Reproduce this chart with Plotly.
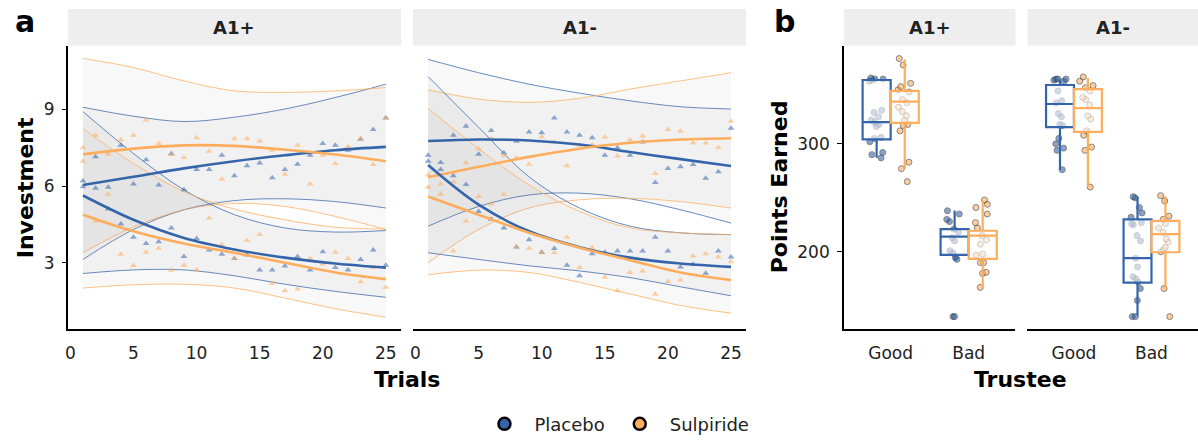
import plotly.graph_objects as go

W, H = 1198, 443
BLUE = "#3465AB"
ORANGE = "#FDAD5C"
FONT = "DejaVu Sans"

# ---------------- Panel a: investment over trials ----------------
trials = list(range(1, 26))
fit_x = [1, 5, 9, 13, 17, 21, 25]

# A1+ facet : trial means
a1p_plac_good_pts = [6.2, 7.14, 5.95, 7.59, 6.08, 7.03, 6.04, 7.26, 5.85, 6.65, 6.65, 7.2, 6.4,
                     6.79, 6.9, 6.32, 6.65, 6.85, 7.2, 7.66, 7.59, 7.4, 7.83, 8.21, 8.66]
a1p_plac_bad_pts = [5.97, 5.91, 5.1, 4.51, 4.0, 3.75, 3.82, 4.36, 3.24, 3.95, 3.5, 3.33, 3.17,
                    3.3, 2.72, 2.72, 2.87, 3.24, 2.72, 3.43, 2.81, 2.72, 3.13, 3.5, 2.9]
a1p_sulp_good_pts = [7.5, 7.98, 7.24, 7.81, 7.98, 8.58, 7.66, 7.23, 7.11, 7.89, 7.36, 6.26, 7.85,
                     7.85, 7.76, 7.4, 6.46, 7.59, 6.08, 7.2, 6.88, 7.53, 7.85, 6.84, 8.66]
a1p_sulp_bad_pts = [6.97, 4.62, 5.68, 3.33, 2.89, 3.41, 3.56, 2.71, 2.9, 2.72, 4.75, 3.71, 3.17,
                    3.87, 4.1, 2.19, 1.91, 1.97, 3.17, 2.94, 3.41, 3.17, 2.26, 2.81, 2.04]

# A1+ facet : smooth fits and confidence bands
a1p_plac_good_fit = [6.04, 6.36, 6.69, 6.97, 7.2, 7.4, 7.53]
a1p_plac_good_hi = [9.08, 8.73, 8.52, 8.69, 9.01, 9.46, 9.98]
a1p_plac_good_lo = [3.13, 4.3, 5.07, 5.43, 5.5, 5.39, 5.14]
a1p_sulp_good_fit = [7.24, 7.46, 7.59, 7.57, 7.42, 7.23, 6.97]
a1p_sulp_good_hi = [10.99, 10.63, 10.11, 9.72, 9.66, 9.72, 9.85]
a1p_sulp_good_lo = [3.39, 4.4, 5.07, 5.32, 5.2, 4.81, 4.3]
a1p_plac_bad_fit = [5.63, 4.68, 3.97, 3.52, 3.2, 2.97, 2.81]
a1p_plac_bad_hi = [8.91, 7.27, 5.85, 4.88, 4.36, 4.2, 4.26]
a1p_plac_bad_lo = [2.58, 2.72, 2.72, 2.49, 2.16, 1.88, 1.65]
a1p_sulp_bad_fit = [4.88, 4.23, 3.75, 3.39, 3.0, 2.62, 2.36]
a1p_sulp_bad_hi = [8.24, 6.88, 5.78, 5.1, 4.68, 4.39, 4.32]
a1p_sulp_bad_lo = [2.01, 2.14, 2.16, 2.01, 1.62, 1.2, 0.87]

# A1- facet : trial means
a1m_plac_good_pts = [7.2, 6.92, 7.98, 8.34, 7.24, 8.17, 7.3, 7.75, 8.11, 8.08, 8.66, 8.11, 7.98,
                     7.89, 7.2, 7.5, 7.2, 7.72, 6.14, 6.68, 6.75, 6.84, 6.3, 6.56, 8.26]
a1m_plac_bad_pts = [6.97, 6.65, 6.4, 6.06, 5.0, 4.7, 4.36, 3.62, 3.9, 3.41, 3.56, 2.9, 2.49,
                    3.35, 3.41, 3.46, 3.46, 3.46, 4.0, 3.46, 2.83, 2.94, 2.59, 3.46, 3.22]
a1m_sulp_good_pts = [6.43, 6.08, 6.17, 6.9, 7.46, 7.85, 7.2, 7.1, 6.85, 7.92, 7.72, 6.79, 7.59,
                     7.61, 7.92, 7.17, 7.81, 7.95, 6.49, 8.21, 8.14, 7.68, 7.68, 7.5, 8.53]
a1m_sulp_bad_pts = [5.95, 5.68, 3.46, 4.62, 5.59, 5.3, 5.68, 3.62, 3.56, 3.39, 3.39, 4.0, 2.81,
                    3.59, 2.43, 1.91, 2.62, 2.68, 1.78, 2.27, 2.33, 3.26, 3.35, 3.22, 3.04]

# A1- facet : smooth fits and confidence bands
a1m_plac_good_fit = [7.76, 7.82, 7.78, 7.62, 7.33, 7.05, 6.78]
a1m_plac_good_hi = [10.95, 10.43, 9.98, 9.63, 9.33, 9.1, 9.01]
a1m_plac_good_lo = [4.43, 5.2, 5.65, 5.72, 5.5, 5.07, 4.55]
a1m_sulp_good_fit = [6.34, 6.75, 7.14, 7.46, 7.69, 7.82, 7.87]
a1m_sulp_good_hi = [9.76, 9.4, 9.27, 9.43, 9.79, 10.11, 10.43]
a1m_sulp_good_lo = [3.0, 4.3, 5.14, 5.46, 5.52, 5.39, 5.14]
a1m_plac_bad_fit = [6.82, 5.27, 4.23, 3.61, 3.2, 2.97, 2.84]
a1m_plac_bad_hi = [10.28, 8.3, 6.36, 5.14, 4.43, 4.17, 4.1]
a1m_plac_bad_lo = [3.39, 3.13, 2.88, 2.68, 2.42, 2.06, 1.71]
a1m_sulp_bad_fit = [5.59, 4.88, 4.17, 3.59, 3.1, 2.62, 2.32]
a1m_sulp_bad_hi = [9.04, 7.46, 6.04, 5.01, 4.36, 4.17, 4.1]
a1m_sulp_bad_lo = [2.53, 2.71, 2.62, 2.23, 1.78, 1.33, 1.03]

a_xticks = [0, 5, 10, 15, 20, 25]
a_yticks = [3, 6, 9]

# ---------------- Panel b: points earned ----------------
trustee_cats = ["Good", "Bad"]

# raw participant points
a1p_good_plac = [361, 360, 360, 359, 358, 331, 329, 325, 322, 320, 318, 316, 306, 305, 302, 292, 290, 287]
a1p_bad_plac = [238, 235, 230, 228, 221, 218, 213, 210, 201, 199, 195, 193, 140, 140]
a1p_good_sulp = [379, 373, 356, 353, 350, 348, 341, 338, 334, 330, 326, 322, 318, 317, 312, 283, 277, 265]
a1p_bad_sulp = [248, 244, 241, 235, 227, 222, 215, 211, 207, 198, 197, 190, 190, 181, 180, 167]
a1m_good_plac = [360, 360, 360, 359, 358, 349, 340, 338, 328, 325, 318, 317, 305, 300, 296, 294, 276]
a1m_bad_plac = [251, 250, 241, 236, 232, 227, 226, 225, 215, 210, 194, 186, 177, 175, 172, 166, 155, 140, 140]
a1m_good_sulp = [362, 358, 354, 352, 349, 343, 341, 336, 326, 323, 312, 308, 297, 294, 260]
a1m_bad_sulp = [252, 247, 233, 230, 226, 222, 218, 212, 209, 204, 202, 200, 166, 140]

# box statistics [Good, Bad]
a1p_plac_q1 = [304.2, 197.2]
a1p_plac_med = [320.1, 214.0]
a1p_plac_q3 = [359.1, 221.0]
a1p_plac_lo = [287.0, 191.4]
a1p_plac_hi = [359.1, 238.3]
a1p_sulp_q1 = [319.5, 193.5]
a1p_sulp_med = [339.0, 215.0]
a1p_sulp_q3 = [349.0, 219.5]
a1p_sulp_lo = [277.0, 166.0]
a1p_sulp_hi = [378.0, 247.5]
a1m_plac_q1 = [315.5, 171.5]
a1m_plac_med = [336.9, 194.1]
a1m_plac_q3 = [354.5, 230.1]
a1m_plac_lo = [275.8, 141.0]
a1m_plac_hi = [359.7, 250.9]
a1m_sulp_q1 = [311.0, 199.6]
a1m_sulp_med = [333.0, 216.4]
a1m_sulp_q3 = [350.6, 228.6]
a1m_sulp_lo = [260.0, 165.5]
a1m_sulp_hi = [361.0, 251.5]

b_yticks = [200, 300]


def rgba(hexc, a):
    h = hexc.lstrip("#")
    r, g, b = int(h[0:2], 16), int(h[2:4], 16), int(h[4:6], 16)
    return f"rgba({r},{g},{b},{a})"


fig = go.Figure()

# ---- panel a traces ----
facets_a = [
    ("x", "y", [
        (BLUE, a1p_plac_good_pts, a1p_plac_good_fit, a1p_plac_good_lo, a1p_plac_good_hi),
        (ORANGE, a1p_sulp_good_pts, a1p_sulp_good_fit, a1p_sulp_good_lo, a1p_sulp_good_hi),
        (BLUE, a1p_plac_bad_pts, a1p_plac_bad_fit, a1p_plac_bad_lo, a1p_plac_bad_hi),
        (ORANGE, a1p_sulp_bad_pts, a1p_sulp_bad_fit, a1p_sulp_bad_lo, a1p_sulp_bad_hi),
    ]),
    ("x2", "y2", [
        (BLUE, a1m_plac_good_pts, a1m_plac_good_fit, a1m_plac_good_lo, a1m_plac_good_hi),
        (ORANGE, a1m_sulp_good_pts, a1m_sulp_good_fit, a1m_sulp_good_lo, a1m_sulp_good_hi),
        (BLUE, a1m_plac_bad_pts, a1m_plac_bad_fit, a1m_plac_bad_lo, a1m_plac_bad_hi),
        (ORANGE, a1m_sulp_bad_pts, a1m_sulp_bad_fit, a1m_sulp_bad_lo, a1m_sulp_bad_hi),
    ]),
]

for xa, ya, groups in facets_a:
    # ribbons
    for col, pts, fit, lo, hi in groups:
        fig.add_trace(go.Scatter(x=fit_x, y=lo, mode="lines", xaxis=xa, yaxis=ya,
                                 line=dict(color=rgba(col, 0.75), width=1, shape="spline"),
                                 showlegend=False, hoverinfo="skip"))
        fig.add_trace(go.Scatter(x=fit_x, y=hi, mode="lines", xaxis=xa, yaxis=ya,
                                 line=dict(color=rgba(col, 0.75), width=1, shape="spline"),
                                 fill="tonexty", fillcolor="rgba(120,120,120,0.055)",
                                 showlegend=False, hoverinfo="skip"))
    # points
    for col, pts, fit, lo, hi in groups:
        fig.add_trace(go.Scatter(x=trials, y=pts, mode="markers", xaxis=xa, yaxis=ya,
                                 marker=dict(symbol="triangle-up", size=6, color=col, opacity=0.55),
                                 showlegend=False))
    # fitted lines
    for col, pts, fit, lo, hi in groups:
        fig.add_trace(go.Scatter(x=fit_x, y=fit, mode="lines", xaxis=xa, yaxis=ya,
                                 line=dict(color=col, width=2.6, shape="spline"),
                                 showlegend=False))

# ---- panel b traces ----
facets_b = [
    ("x3", "y3", [
        ("Placebo", BLUE, a1p_good_plac, a1p_bad_plac, a1p_plac_q1, a1p_plac_med, a1p_plac_q3, a1p_plac_lo, a1p_plac_hi),
        ("Sulpiride", ORANGE, a1p_good_sulp, a1p_bad_sulp, a1p_sulp_q1, a1p_sulp_med, a1p_sulp_q3, a1p_sulp_lo, a1p_sulp_hi),
    ]),
    ("x4", "y4", [
        ("Placebo", BLUE, a1m_good_plac, a1m_bad_plac, a1m_plac_q1, a1m_plac_med, a1m_plac_q3, a1m_plac_lo, a1m_plac_hi),
        ("Sulpiride", ORANGE, a1m_good_sulp, a1m_bad_sulp, a1m_sulp_q1, a1m_sulp_med, a1m_sulp_q3, a1m_sulp_lo, a1m_sulp_hi),
    ]),
]

for xa, ya, groups in facets_b:
    for name, col, good, bad, q1, med, q3, lo, hi in groups:
        fig.add_trace(go.Box(
            x=[trustee_cats[0]] * len(good) + [trustee_cats[1]] * len(bad),
            y=good + bad, xaxis=xa, yaxis=ya, offsetgroup=name,
            boxpoints="all", jitter=0.6, pointpos=0, whiskerwidth=0,
            fillcolor="rgba(0,0,0,0)", line=dict(color="rgba(0,0,0,0)", width=0),
            marker=dict(size=6, color=col, opacity=0.6, line=dict(color="#333333", width=1)),
            showlegend=False, hoverinfo="y"))
    for name, col, good, bad, q1, med, q3, lo, hi in groups:
        fig.add_trace(go.Box(
            x=trustee_cats, q1=q1, median=med, q3=q3, lowerfence=lo, upperfence=hi,
            xaxis=xa, yaxis=ya, offsetgroup=name, boxpoints=False, whiskerwidth=0,
            fillcolor="rgba(255,255,255,0.6)", line=dict(color=col, width=2.2),
            showlegend=False))

# legend entries
for name, col in [("Placebo", BLUE), ("Sulpiride", ORANGE)]:
    fig.add_trace(go.Scatter(x=[None], y=[None], mode="markers", name=name, xaxis="x", yaxis="y",
                             marker=dict(size=12, color=col, line=dict(color="black", width=2.5))))


def px_x(p):
    return p / W


def px_y(p):
    return 1 - p / H


ydom = [px_y(332), px_y(46)]
dom_a1 = [px_x(65), px_x(399)]
dom_a2 = [px_x(411), px_x(745)]
dom_b1 = [px_x(843), px_x(1015)]
dom_b2 = [px_x(1027), 1.0]

tickfont = dict(family=FONT, size=17, color="#222222")
common_x = dict(showgrid=False, zeroline=False, showline=True, linecolor="black", linewidth=1.5,
                ticks="", tickfont=tickfont, ticklabelstandoff=8)
common_y = dict(showgrid=False, zeroline=False, tickfont=tickfont)

fig.update_layout(
    width=W, height=H, margin=dict(l=0, r=0, t=0, b=0),
    paper_bgcolor="white", plot_bgcolor="white",
    font=dict(family=FONT, color="#111111"),
    boxmode="group", boxgap=0.28, boxgroupgap=0.0,
    xaxis=dict(domain=dom_a1, range=[-0.2, 26.2], tickvals=a_xticks, anchor="y", **common_x),
    xaxis2=dict(domain=dom_a2, range=[-0.2, 26.2], tickvals=a_xticks, anchor="y2", **common_x),
    xaxis3=dict(domain=dom_b1, range=[-0.6, 1.6], type="category", categoryorder="array",
                categoryarray=trustee_cats, anchor="y3", **common_x),
    xaxis4=dict(domain=dom_b2, range=[-0.6, 1.6], type="category", categoryorder="array",
                categoryarray=trustee_cats, anchor="y4", **common_x),
    yaxis=dict(domain=ydom, range=[0.41, 11.49], tickvals=a_yticks, anchor="x", showline=True,
               linecolor="black", linewidth=1.5, ticks="outside", ticklen=4, tickcolor="black",
               tickwidth=1.2, ticklabelstandoff=4, **common_y),
    yaxis2=dict(domain=ydom, range=[0.41, 11.49], anchor="x2", showticklabels=False, showline=False,
                **common_y),
    yaxis3=dict(domain=ydom, range=[128.5, 391], tickvals=b_yticks, anchor="x3", showline=True,
                linecolor="black", linewidth=1.5, ticks="outside", ticklen=5, tickcolor="black",
                tickwidth=1.2, ticklabelstandoff=4, **common_y),
    yaxis4=dict(domain=ydom, range=[128.5, 391], anchor="x4", showticklabels=False, showline=False,
                **common_y),
    legend=dict(orientation="h", x=px_x(613), xanchor="center", y=px_y(428), yanchor="middle",
                font=dict(family=FONT, size=18, color="#222222"), bgcolor="rgba(0,0,0,0)",
                itemclick=False, tracegroupgap=0, traceorder="normal", itemwidth=50),
)

# strips
shapes = []
annotations = []
for dom, label in [(dom_a1, "A1+"), (dom_a2, "A1-"), (dom_b1, "A1+"), (dom_b2, "A1-")]:
    shapes.append(dict(type="rect", xref="paper", yref="paper", x0=dom[0], x1=dom[1],
                       y0=px_y(46), y1=px_y(9), fillcolor="#EEEEEE", line=dict(width=0), layer="below"))
    annotations.append(dict(text=f"<b>{label}</b>", xref="paper", yref="paper",
                            x=(dom[0] + dom[1]) / 2, y=px_y(27.5), showarrow=False,
                            xanchor="center", yanchor="middle",
                            font=dict(family=FONT, size=18, color="#222222")))

title_font = dict(family=FONT, size=22, color="black")
annotations += [
    dict(text="<b>a</b>", x=px_x(22), y=px_y(22), font=dict(family=FONT, size=30, color="black")),
    dict(text="<b>b</b>", x=px_x(783), y=px_y(22), font=dict(family=FONT, size=30, color="black")),
    dict(text="<b>Investment</b>", x=px_x(22), y=px_y(189), textangle=-90, font=title_font),
    dict(text="<b>Points Earned</b>", x=px_x(778), y=px_y(189), textangle=-90, font=title_font),
    dict(text="<b>Trials</b>", x=px_x(405), y=px_y(383), font=title_font),
    dict(text="<b>Trustee</b>", x=px_x(1020), y=px_y(383), font=title_font),
]
for a in annotations[-6:]:
    a.update(xref="paper", yref="paper", showarrow=False, xanchor="center", yanchor="middle")

fig.update_layout(shapes=shapes, annotations=annotations)

fig.write_html("out.html", config={"displayModeBar": False},
               post_script="document.body.style.margin='0';document.body.style.padding='0';")
